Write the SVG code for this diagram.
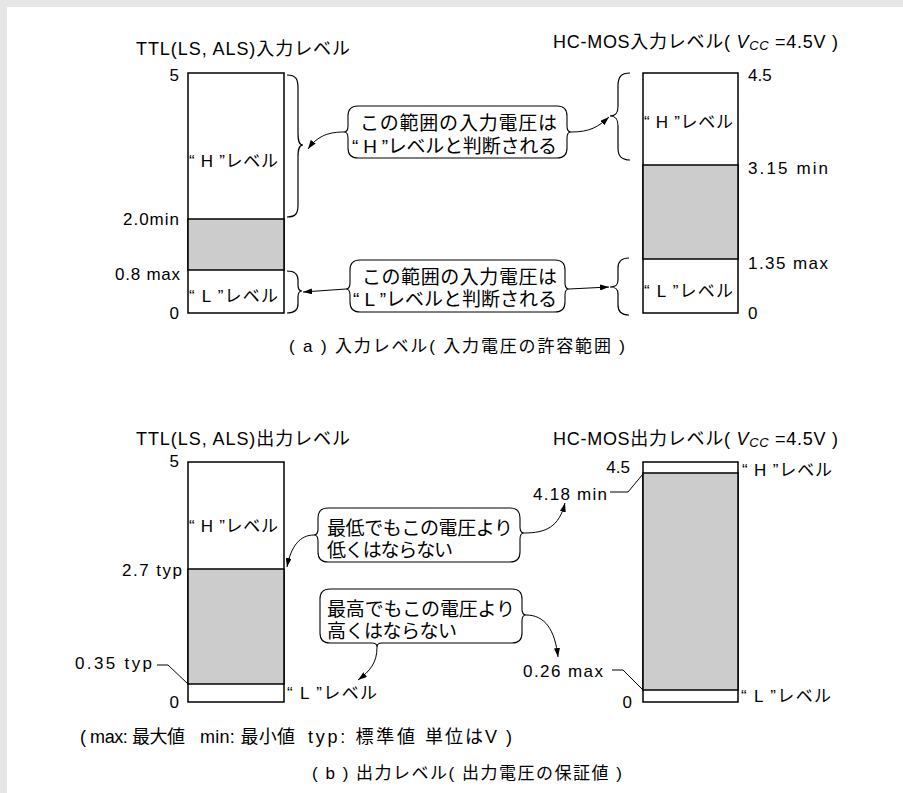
<svg xmlns="http://www.w3.org/2000/svg" width="903" height="793" viewBox="0 0 903 793">
<style>
text{font-family:"Liberation Sans","Noto Sans CJK JP",sans-serif;font-size:17px;fill:#000}
.t{font-size:18px}
.c{font-size:19px}
.lg{font-size:18px}
.box{fill:#fff;stroke:#000;stroke-width:1.5}
.gray{fill:#cccccc;stroke:#000;stroke-width:1.5}
.br{fill:none;stroke:#000;stroke-width:1.2}
.co{fill:#fff;stroke:#000;stroke-width:1.1}
.ln{fill:none;stroke:#000;stroke-width:1}
.ar{fill:none;stroke:#000;stroke-width:1;marker-end:url(#ah)}
</style>
<defs>
<marker id="ah" markerUnits="userSpaceOnUse" markerWidth="9" markerHeight="6" refX="9" refY="3" orient="auto">
<path d="M0,0 L9,3 L0,6 Z" fill="#000"/>
</marker>
</defs>
<rect x="0" y="0" width="903" height="793" fill="#e6e6e6"/>
<rect x="7" y="7" width="896" height="786" fill="#fff"/>

<!-- (a) input levels -->
<g id="ttl-input">
<text class="t" x="136" y="55" textLength="214" lengthAdjust="spacing">TTL(LS, ALS)入力レベル</text>
<rect class="box" x="188" y="73" width="96" height="240"/>
<rect class="gray" x="188" y="219" width="96" height="51"/>
<text x="189" y="167" textLength="89" lengthAdjust="spacing">“ H ”レベル</text>
<text x="189" y="302" textLength="89" lengthAdjust="spacing">“ L ”レベル</text>
<text x="179" y="81" text-anchor="end">5</text>
<text x="179" y="225" text-anchor="end" textLength="56" lengthAdjust="spacing">2.0min</text>
<text x="180" y="280" text-anchor="end" textLength="65" lengthAdjust="spacing">0.8 max</text>
<text x="179" y="319" text-anchor="end">0</text>
</g>

<g id="hcmos-input">
<text class="t" x="553" y="48" textLength="285" lengthAdjust="spacing">HC-MOS入力レベル( <tspan font-style="italic">V</tspan><tspan font-style="italic" font-size="13" dy="2">CC</tspan><tspan dy="-2"> =4.5V )</tspan></text>
<rect class="box" x="643" y="73" width="95" height="240"/>
<rect class="gray" x="643" y="165" width="95" height="94"/>
<text x="644" y="128" textLength="89" lengthAdjust="spacing">“ H ”レベル</text>
<text x="644" y="297" textLength="89" lengthAdjust="spacing">“ L ”レベル</text>
<text x="748" y="81">4.5</text>
<text x="748" y="174" textLength="80" lengthAdjust="spacing">3.15 min</text>
<text x="748" y="269" textLength="80" lengthAdjust="spacing">1.35 max</text>
<text x="748" y="319">0</text>
</g>

<g id="braces-a">
<path class="br" d="M287,75 C296,75 298,79 298,88 L298,133 C298,141 299,145 303,145 C299,145 298,149 298,157 L298,205 C298,213 296,217 287,217"/>
<path class="br" d="M630,73 C621,73 618,77 618,86 L618,106 C618,113 616,116 610,116 C616,116 618,119 618,126 L618,148 C618,156 621,160 630,160"/>
<path class="br" d="M287,271 C295,271 298,274 298,280 L298,285 C298,289 299,291 302,291 C299,291 298,293 298,297 L298,304 C298,310 295,313 287,313"/>
<path class="br" d="M629,258 C621,258 618,262 618,268 L618,280 C618,285 616,287 610,287 C616,287 618,289 618,294 L618,305 C618,311 621,315 629,315"/>
</g>

<g id="callout-h-input">
<path class="co" d="M358,106 H557 Q567,106 567,116 V126 Q567,132 571,132 Q567,132 567,138 V148 Q567,158 557,158 H358 Q348,158 348,148 V138 Q348,132 344,132 Q348,132 348,126 V116 Q348,106 358,106 Z"/>
<text class="c" x="360" y="130" textLength="197" lengthAdjust="spacing">この範囲の入力電圧は</text>
<text class="c" x="352" y="153" textLength="205" lengthAdjust="spacing">“ H ”レベルと判断される</text>
</g>

<g id="callout-l-input">
<path class="co" d="M360,260 H555 Q565,260 565,270 V283 Q565,289 569,289 Q565,289 565,295 V302 Q565,312 555,312 H360 Q350,312 350,302 V295 Q350,289 346,289 Q350,289 350,283 V270 Q350,260 360,260 Z"/>
<text class="c" x="362" y="284" textLength="195" lengthAdjust="spacing">この範囲の入力電圧は</text>
<text class="c" x="353" y="306" textLength="204" lengthAdjust="spacing">“ L ”レベルと判断される</text>
</g>

<g id="caption-a">
<text x="289" y="352" textLength="336" lengthAdjust="spacing">( a ) 入力レベル( 入力電圧の許容範囲 )</text>
</g>

<!-- (b) output levels -->
<g id="ttl-output">
<text class="t" x="136" y="445" textLength="214" lengthAdjust="spacing">TTL(LS, ALS)出力レベル</text>
<rect class="box" x="188" y="462" width="96" height="240"/>
<rect class="gray" x="188" y="569" width="96" height="115"/>
<text x="189" y="532" textLength="89" lengthAdjust="spacing">“ H ”レベル</text>
<text x="287" y="699" textLength="90" lengthAdjust="spacing">“ L ”レベル</text>
<text x="179" y="467" text-anchor="end">5</text>
<text x="182" y="576" text-anchor="end" textLength="60" lengthAdjust="spacing">2.7 typ</text>
<text x="152" y="669" text-anchor="end" textLength="77" lengthAdjust="spacing">0.35 typ</text>
<text x="179" y="708" text-anchor="end">0</text>
<path class="ln" d="M157,665 L168,665 L188,684"/>
</g>

<g id="hcmos-output">
<text class="t" x="553" y="445" textLength="285" lengthAdjust="spacing">HC-MOS出力レベル( <tspan font-style="italic">V</tspan><tspan font-style="italic" font-size="13" dy="2">CC</tspan><tspan dy="-2"> =4.5V )</tspan></text>
<rect class="box" x="643" y="462" width="95" height="240"/>
<rect class="gray" x="643" y="473" width="95" height="217"/>
<text x="742" y="476" textLength="90" lengthAdjust="spacing">“ H ”レベル</text>
<text x="741" y="702" textLength="90" lengthAdjust="spacing">“ L ”レベル</text>
<text x="630" y="473" text-anchor="end">4.5</text>
<text x="607" y="500" text-anchor="end" textLength="74" lengthAdjust="spacing">4.18 min</text>
<text x="603" y="677" text-anchor="end" textLength="80" lengthAdjust="spacing">0.26 max</text>
<text x="632" y="708" text-anchor="end">0</text>
<path class="ln" d="M610,492 L628,492 L643,474"/>
<path class="ln" d="M612,670 L623,670 L643,690"/>
</g>

<g id="callout-low">
<path class="co" d="M328,508 H510 Q520,508 520,518 V527 Q520,533 524,533 Q520,533 520,539 V552 Q520,562 510,562 H328 Q318,562 318,552 V541 Q318,535 314,535 Q318,535 318,529 V518 Q318,508 328,508 Z"/>
<text class="c" x="327" y="535" textLength="186" lengthAdjust="spacing">最低でもこの電圧より</text>
<text class="c" x="327" y="557" textLength="126" lengthAdjust="spacing">低くはならない</text>
</g>

<g id="callout-high">
<path class="co" d="M330,589 H512 Q522,589 522,599 V609 Q522,615 526,615 Q522,615 522,621 V633 Q522,643 512,643 H382 Q377,643 377,647 Q377,643 372,643 H330 Q320,643 320,633 V599 Q320,589 330,589 Z"/>
<text class="c" x="327" y="616" textLength="188" lengthAdjust="spacing">最高でもこの電圧より</text>
<text class="c" x="327" y="638" textLength="130" lengthAdjust="spacing">高くはならない</text>
</g>

<g id="legend">
<text class="lg" x="80" y="743" textLength="105" lengthAdjust="spacing">( max: 最大値</text>
<text class="lg" x="200" y="743" textLength="95" lengthAdjust="spacing">min: 最小値</text>
<text class="lg" x="308" y="743" textLength="107" lengthAdjust="spacing">typ: 標準値</text>
<text class="lg" x="425" y="743" textLength="87" lengthAdjust="spacing">単位はV )</text>
</g>

<g id="caption-b">
<text x="312" y="779" textLength="310" lengthAdjust="spacing">( b ) 出力レベル( 出力電圧の保証値 )</text>
</g>

<g id="connectors">
<path class="ar" d="M344,132 C330,132 318,135 308,149"/>
<path class="ar" d="M571,132 C590,132 598,127 609,117"/>
<path class="ar" d="M346,289 L303,292"/>
<path class="ar" d="M569,289 L609,287"/>
<path class="ar" d="M314,535 C300,535 291,546 287,567"/>
<path class="ar" d="M524,533 C546,533 559,527 565,503"/>
<path class="ar" d="M377,647 C377,663 370,671 358,680"/>
<path class="ar" d="M526,615 C545,615 555,630 558,657"/>
</g>
</svg>
